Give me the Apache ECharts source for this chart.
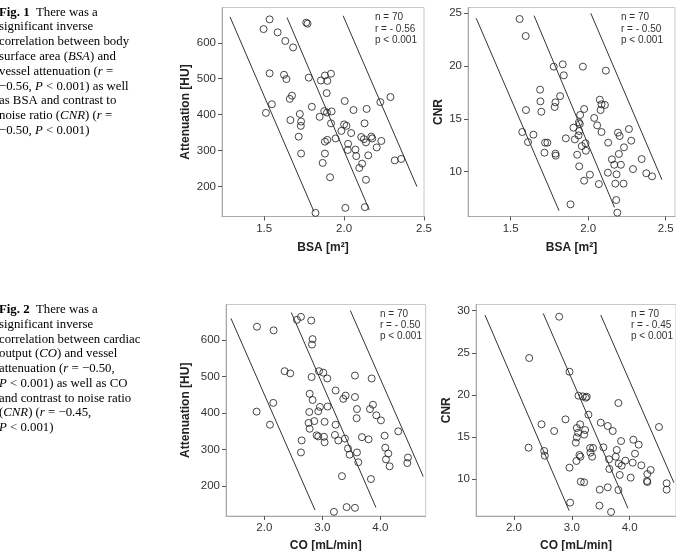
<!DOCTYPE html>
<html><head><meta charset="utf-8">
<script src="https://cdn.jsdelivr.net/npm/echarts@6/dist/echarts.min.js"></script>
<style>html,body{margin:0;padding:0;background:#fff}#c{width:676px;height:551px}</style>
</head><body><div id="c"></div>
<script>
// ---- Panel 1: BSA vs Attenuation ----
const p1X = [1.534,1.496,1.584,1.632,1.681,1.763,1.771,1.534,1.624,1.639,1.779,1.855,1.880,1.918,1.895,1.891,1.674,1.660,1.548,1.511,1.798,1.847,1.876,1.893,1.922,1.723,1.664,1.731,1.729,1.716,1.731,1.918,2.004,2.059,2.141,2.128,2.000,2.015,1.983,2.044,1.947,1.880,1.895,2.025,2.023,2.071,2.076,2.107,2.124,2.170,2.176,2.137,2.233,2.204,2.151,2.227,2.290,2.317,2.357,2.113,2.095,2.137,1.880,1.866,1.912,1.821,2.008,2.130];
const p1Y = [665,638,629,605,587,656,653,515,511,499,503,495,509,514,494,460,453,444,429,405,422,394,410,406,409,402,385,381,369,339,292,376,438,413,416,376,373,369,355,349,334,325,330,319,302,303,285,338,332,339,334,323,327,309,287,435,449,273,277,264,252,219,292,266,226,127,141,143];
const p1Lines = [[[1.286,672],[1.811,131]],[[1.643,670],[2.158,135]],[[1.994,675],[2.456,200]]];
const p1XTicks = [1.5,2.0,2.5];
const p1YTicks = [200,300,400,500,600];
const p1Stats = ['n = 70','r = - 0.56','p < 0.001'];

// ---- Panel 2: BSA vs CNR ----
const p2X = [1.558,1.597,1.778,1.836,1.843,1.966,2.114,1.690,1.692,1.698,1.599,1.789,1.784,1.819,1.575,1.612,1.647,1.722,1.737,1.718,1.789,1.791,1.856,1.974,1.948,1.940,1.946,1.905,1.942,1.938,1.914,1.983,1.959,1.985,1.929,1.942,1.974,2.011,2.039,2.058,2.075,2.086,2.080,2.108,2.086,2.129,2.069,2.127,2.192,2.203,2.263,2.278,2.231,2.198,2.153,2.211,2.168,2.183,2.175,2.228,2.289,2.345,2.375,2.412,1.886,2.181,2.188];
const p2Y = [24.46,22.85,19.95,20.17,19.13,19.95,19.57,17.77,16.66,15.68,15.84,16.57,16.13,17.16,13.76,12.81,13.51,12.75,12.75,11.80,11.71,11.52,13.16,15.94,15.37,14.67,14.52,14.17,13.85,13.44,13.06,12.69,12.43,11.99,11.61,10.51,9.15,9.72,15.09,14.39,16.82,16.38,15.84,16.32,13.76,12.75,8.83,9.91,13.70,13.38,14.04,12.94,12.31,11.68,11.17,10.66,10.66,9.75,8.87,8.87,10.25,11.20,9.85,9.56,6.91,7.32,6.12];
const p2Lines = [[[1.278,24.53],[1.812,6.31]],[[1.651,24.78],[2.170,6.62]],[[2.017,25.0],[2.476,9.24]]];
const p2XTicks = [1.5,2.0,2.5];
const p2YTicks = [10,15,20,25];
const p2Stats = ['n = 70','r = - 0.50','p < 0.001'];

// ---- Panel 3: CO vs Attenuation ----
const p3X = [1.874,2.161,2.563,2.632,2.810,2.833,2.822,2.351,2.448,2.816,2.943,3.017,3.086,3.563,3.851,3.230,3.362,3.402,3.563,2.782,2.833,2.155,1.868,2.098,2.776,2.764,2.960,3.092,2.931,2.862,3.040,3.230,2.782,2.902,2.931,3.029,3.040,3.218,3.276,3.391,3.443,3.471,3.598,3.592,3.822,3.874,3.931,4.011,3.684,3.799,3.598,3.621,4.075,4.086,4.138,4.098,4.161,4.310,4.477,4.466,2.644,2.632,3.339,3.839,3.201,3.420,3.563];
const p3Y = [637,627,656,664,654,603,588,515,509,499,515,511,495,503,495,462,439,448,444,453,436,428,404,368,403,373,417,418,405,378,376,368,357,339,336,335,320,340,325,330,303,286,411,386,411,423,394,380,334,328,292,265,338,305,289,273,254,350,278,263,325,292,227,219,129,142,140];
const p3Lines = [[[1.425,660],[2.874,134]],[[2.466,676],[3.925,141]],[[3.483,681.5],[4.741,226]]];
const p3XTicks = [2.0,3.0,4.0];
const p3YTicks = [200,300,400,500,600];
const p3Stats = ['n = 70','r = - 0.50','p < 0.001'];

// ---- Panel 4: CO vs CNR ----
const p4X = [2.782,2.264,2.960,3.115,3.190,3.241,3.259,3.287,3.805,2.477,2.695,2.891,2.253,2.523,2.534,3.086,3.144,3.109,3.230,3.213,3.086,3.069,3.132,3.149,3.080,2.960,3.316,3.368,3.322,3.351,3.155,3.213,3.500,3.621,3.707,3.546,3.644,3.649,3.759,3.776,3.851,3.810,3.862,3.828,3.925,4.063,4.155,4.092,4.052,4.201,4.017,4.305,4.362,4.299,4.305,4.506,4.638,4.638,3.483,3.621,3.805,2.971,3.477,3.678];
const p4Y = [29.29,24.38,22.75,19.90,19.82,19.66,19.78,17.64,19.03,16.50,15.70,17.09,13.72,13.33,12.77,16.06,16.50,15.50,15.82,15.27,14.95,14.32,12.85,12.65,12.14,11.35,13.68,13.68,13.13,12.65,9.68,9.60,16.69,16.30,15.70,13.76,12.34,11.19,12.65,13.45,14.51,11.82,11.58,10.48,12.18,14.67,14.08,13.01,11.94,11.62,10.16,10.59,11.07,9.76,9.64,16.18,9.49,8.73,8.73,9.01,8.69,7.19,6.83,6.08];
const p4Lines = [[[1.50,29.49],[2.954,6.24]],[[2.506,29.68],[3.971,6.51]],[[3.50,29.49],[4.764,9.56]]];
const p4XTicks = [2.0,3.0,4.0];
const p4YTicks = [10,15,20,25,30];
const p4Stats = ['n = 70','r = - 0.45','p < 0.001'];

// ---- Captions ----
const fig1Caption = [
  '{b|Fig. 1}  There was a',
  'significant inverse',
  'correlation between body',
  'surface area ({i|BSA}) and',
  'vessel attenuation ({i|r} =',
  '\u22120.56, {i|P} < 0.001) as well',
  'as BSA and contrast to',
  'noise ratio ({i|CNR}) ({i|r} =',
  '\u22120.50, {i|P} < 0.001)'
];
const fig2Caption = [
  '{b|Fig. 2}  There was a',
  'significant inverse',
  'correlation between cardiac',
  'output ({i|CO}) and vessel',
  'attenuation ({i|r} = \u22120.50,',
  '{i|P} < 0.001) as well as CO',
  'and contrast to noise ratio',
  '({i|CNR}) ({i|r} = \u22120.45,',
  '{i|P} < 0.001)'
];

const SANS = '"Liberation Sans", Arial, sans-serif';
const SERIF = '"Liberation Serif", "Times New Roman", serif';

function zip(xs, ys){ return xs.map((x,i)=>[x, ys[i]]); }

function grid(left, top, width, height){
  return {left, top, width, height, show:true, borderColor:'#c8c8c8', borderWidth:1,
          backgroundColor:'transparent', containLabel:false, outerBoundsMode:'none'};
}
function axis(kind, gi, min, max, ticks, name, gap, fmt){
  const a = {
    type:'value', gridIndex:gi, min, max, scale:true,
    axisLine:{show:true, onZero:false, lineStyle:{color:'#a8a8a8', width:1}},
    axisTick:{show:true, length:4, customValues:ticks, lineStyle:{color:'#555', width:1}},
    axisLabel:{customValues:ticks, formatter:fmt, fontSize:11.5, color:'#333', margin:6, fontFamily:SANS},
    splitLine:{show:false},
    name, nameLocation:'middle', nameGap:gap,
    nameTextStyle:{fontWeight:'bold', fontSize:12, color:'#222', fontFamily:SANS}
  };
  if (kind === 'y') a.nameRotate = 90;
  return a;
}
const f1 = v => v.toFixed(1);
const f0 = v => String(Math.round(v));

const panels = [
  {x:p1X, y:p1Y, lines:p1Lines},
  {x:p2X, y:p2Y, lines:p2Lines},
  {x:p3X, y:p3Y, lines:p3Lines},
  {x:p4X, y:p4Y, lines:p4Lines}
];
const series = [];
panels.forEach((p, i) => {
  series.push({
    type:'scatter', xAxisIndex:i, yAxisIndex:i, data:zip(p.x, p.y),
    symbol:'circle', symbolSize:7, silent:true,
    itemStyle:{color:'rgba(0,0,0,0)', borderColor:'#1a1a1a', borderWidth:1}
  });
  p.lines.forEach(l => series.push({
    type:'line', xAxisIndex:i, yAxisIndex:i, data:l, symbol:'none', silent:true, clip:true,
    lineStyle:{color:'#333', width:1}
  }));
});

const graphic = [];
function statText(lines, x, y0, dy){
  lines.forEach((t, k) => graphic.push({type:'text', x, y:y0 + k*dy, silent:true,
    style:{text:t, fontSize:10, fontFamily:SANS, fill:'#333', verticalAlign:'middle', align:'left'}}));
}
statText(p1Stats, 375, 17.7, 11.3);
statText(p2Stats, 621, 17.7, 11.3);
statText(p3Stats, 380, 314, 11.2);
statText(p4Stats, 631, 314, 11.2);

function caption(lines, x, y0, dy){
  const rich = {
    b:{fontWeight:'bold', fontSize:12.8, fontFamily:SERIF, fill:'#000', color:'#000'},
    i:{fontStyle:'italic', fontSize:12.8, fontFamily:SERIF, fill:'#000', color:'#000'}
  };
  lines.forEach((t, k) => graphic.push({type:'text', x, y:y0 + k*dy, silent:true,
    style:{text:t, rich, fontSize:12.8, fontFamily:SERIF, fill:'#000', verticalAlign:'middle', align:'left'}}));
}
caption(fig1Caption, -1, 12.3, 14.8);
caption(fig2Caption, -1, 310, 14.7);

const option = {
  animation:false,
  backgroundColor:'#fff',
  grid:[grid(222,7.5,202,209), grid(468,7.5,207,209), grid(226,304.5,199.7,211.5), grid(476,304.5,200,211.5)],
  xAxis:[
    axis('x',0,1.236,2.5,p1XTicks,'BSA [m\u00b2]',25,f1),
    axis('x',1,1.225,2.56,p2XTicks,'BSA [m\u00b2]',25,f1),
    axis('x',2,1.34,4.783,p3XTicks,'CO [mL/min]',24,f1),
    axis('x',3,1.345,4.8,p4XTicks,'CO [mL/min]',24,f1)
  ],
  yAxis:[
    axis('y',0,117,698,p1YTicks,'Attenuation [HU]',30,f0),
    axis('y',1,5.76,25.55,p2YTicks,'CNR',23,f0),
    axis('y',2,117.6,698,p3YTicks,'Attenuation [HU]',34,f0),
    axis('y',3,5.6,30.74,p4YTicks,'CNR',23,f0)
  ],
  series,
  graphic
};
const chart = echarts.init(document.getElementById('c'), null, {renderer:'canvas'});
chart.setOption(option);
</script></body></html>
